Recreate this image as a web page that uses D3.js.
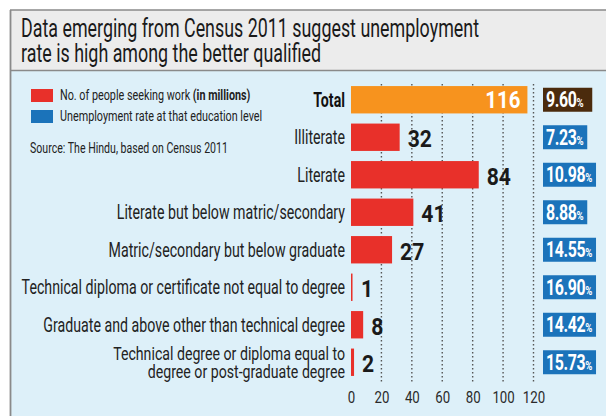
<!DOCTYPE html>
<html>
<head>
<meta charset="utf-8">
<script src="https://cdn.jsdelivr.net/npm/d3@7"></script>
<style>
  html, body { margin: 0; padding: 0; background: #fff; }
  svg { display: block; }
  text { font-family: Roboto, "Liberation Sans", sans-serif; }
</style>
</head>
<body>
<script>
// ---- data ----
const categories = [
  "Total",
  "Illiterate",
  "Literate",
  "Literate but below matric/secondary",
  "Matric/secondary but below graduate",
  "Technical diploma or certificate not equal to degree",
  "Graduate and above other than technical degree",
  "Technical degree or diploma equal to\ndegree or post-graduate degree"
];
const seekers = [116, 32, 84, 41, 27, 1, 8, 2];        // millions
const rates = [9.60, 7.23, 10.98, 8.88, 14.55, 16.90, 14.42, 15.73]; // %
const tickValues = [0, 20, 40, 60, 80, 100, 120];
const titleLines = [
  "Data emerging from Census 2011 suggest unemployment",
  "rate is high among the better qualified"
];
const legendItems = [
  { label: "No. of people seeking work ", bold: "(in millions)", color: "#e8302a" },
  { label: "Unemployment rate at that education level", bold: "", color: "#1b73ba" }
];
const sourceText = "Source: The Hindu, based on Census 2011";

// ---- setup ----
const W = 606, H = 416;
const SQ = 0.75; // horizontal squeeze to mimic a condensed face
const svg = d3.select("body").append("svg").attr("width", W).attr("height", H);

function label(parent, x, y, txt, o = {}) {
  const t = parent.append("text")
    .attr("transform", `translate(${x},${y}) scale(${o.sq ?? SQ},1)`)
    .attr("text-anchor", o.anchor || "start")
    .attr("font-size", o.size || 14)
    .attr("font-weight", o.weight || 400)
    .attr("fill", o.fill || "#222")
    .text(txt);
  return t;
}

// frame
svg.append("rect").attr("x", 0).attr("y", 0).attr("width", W).attr("height", H).attr("fill", "#fff");
svg.append("rect").attr("x", 11).attr("y", 10).attr("width", W - 11).attr("height", 60).attr("fill", "#ececec");
svg.append("rect").attr("x", 11).attr("y", 71).attr("width", W - 11).attr("height", H - 71).attr("fill", "#ddf0f9");
svg.append("line").attr("x1", 10).attr("x2", W).attr("y1", 10).attr("y2", 10).attr("stroke", "#8a8a8a").attr("stroke-width", 1.5);
svg.append("line").attr("x1", 10).attr("x2", W).attr("y1", 70.5).attr("y2", 70.5).attr("stroke", "#8a8a8a").attr("stroke-width", 1.5);
svg.append("line").attr("x1", 10.5).attr("x2", 10.5).attr("y1", 10).attr("y2", H).attr("stroke", "#8a8a8a").attr("stroke-width", 1.8);

// title
titleLines.forEach((l, i) => label(svg, 21, 37 + i * 25, l, { size: 25, fill: "#1a1a1a", sq: 0.715 }));

// legend
legendItems.forEach((d, i) => {
  const y = 89 + i * 21;
  svg.append("rect").attr("x", 31).attr("y", y).attr("width", 22).attr("height", 13).attr("fill", d.color);
  const t = label(svg, 60, y + 11, d.label, { size: 14.5, fill: "#222", sq: 0.745 });
  if (d.bold) t.append("tspan").attr("font-weight", 700).text(d.bold);
});
label(svg, 30, 153, sourceText, { size: 14.5, fill: "#222", sq: 0.73 });

// scales
const x = d3.scaleLinear().domain([0, 120]).range([351, 533.5]);
const y = d3.scaleBand().domain(categories).range([81, 381]).paddingInner(0.27).paddingOuter(0.135);

// dotted gridlines
svg.append("g").selectAll("line").data(tickValues.filter(v => v > 0)).join("line")
  .attr("x1", d => x(d)).attr("x2", d => x(d))
  .attr("y1", 84).attr("y2", 383)
  .attr("stroke", "#555").attr("stroke-width", 1.4).attr("stroke-dasharray", "1.6,2.4");

// axis (labels only)
const axis = svg.append("g").attr("transform", "translate(0,384)")
  .call(d3.axisBottom(x).tickValues(tickValues).tickSize(0).tickPadding(0));
axis.select(".domain").remove();
axis.selectAll(".tick text")
  .attr("x", null).attr("dy", null).attr("y", 0)
  .attr("transform", "translate(0,19) scale(0.78,1)")
  .attr("font-size", 17).attr("fill", "#2a2a2a").attr("font-family", "Roboto, sans-serif");

// bars
const rows = categories.map((c, i) => ({ c, v: seekers[i], r: rates[i], i }));
svg.append("g").selectAll("rect").data(rows).join("rect")
  .attr("x", x(0))
  .attr("y", d => y(d.c))
  .attr("width", d => Math.max(1.5, x(d.v) - x(0)))
  .attr("height", y.bandwidth())
  .attr("fill", d => d.i === 0 ? "#f7931e" : "#e8302a");

// category labels
const lab = svg.append("g");
rows.forEach(d => {
  const cy = y(d.c) + y.bandwidth() / 2;
  const lines = d.c.split("\n");
  const two = lines.length > 1;
  const lh = 18;
  lines.forEach((l, k) => {
    const yy = cy + 7 + (k - (lines.length - 1) / 2) * lh;
    label(lab, 345, yy, l, { anchor: "end", size: two ? 19 : 20, weight: d.i === 0 ? 700 : 400, fill: d.i === 0 ? "#111" : "#222", sq: two ? 0.745 : 0.71 });
  });
});

// value labels
rows.forEach(d => {
  const cy = y(d.c) + y.bandwidth() / 2;
  if (d.i === 0) {
    label(svg, x(d.v) - 7, cy + 8.5, d.v, { anchor: "end", size: 24, weight: 700, fill: "#fff", sq: 0.85 });
  } else {
    label(svg, Math.max(x(d.v), x(0) + 2) + 8, cy + 10, d.v, { anchor: "start", size: 24, weight: 700, fill: "#1a1a1a", sq: 0.88 });
  }
});

// rate boxes
const boxG = svg.append("g");
rows.forEach(d => {
  const cy = y(d.c) + y.bandwidth() / 2;
  const g = boxG.append("g");
  const rect = g.append("rect").attr("x", 543).attr("y", cy - 12).attr("height", 24)
    .attr("fill", d.i === 0 ? "#4b2b0d" : "#1b73ba");
  const t = label(g, 546, cy + 7.5, d.r.toFixed(2), { size: 21.5, weight: 700, fill: "#fff", sq: 0.74 });
  t.attr("letter-spacing", -0.5);
  t.append("tspan").attr("font-size", 13).text("%");
  const w = t.node().getComputedTextLength() * 0.74;
  rect.attr("width", w + (d.i === 0 ? 12 : 7));
});
</script>
</body>
</html>
